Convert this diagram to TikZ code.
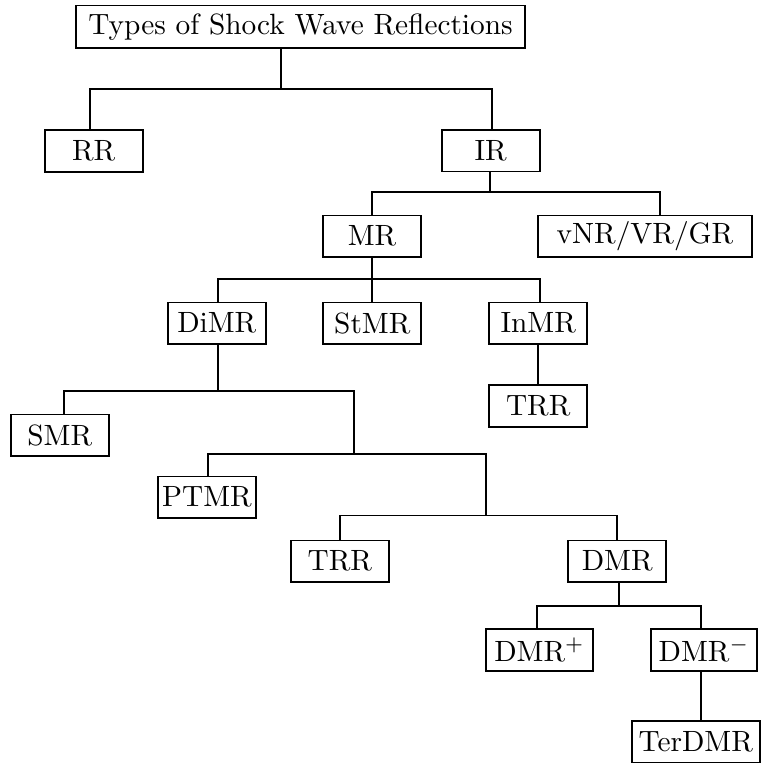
\documentclass[tikz,border=0pt]{standalone}
\begin{document}
\begin{tikzpicture}[x=0.341pt,y=-0.341pt,
  box/.style={draw, line width=0.6pt, inner sep=0pt,
    minimum width=33.42pt, minimum height=14.15pt},
  link/.style={line width=0.6pt}]
\useasboundingbox (0,0) rectangle (762,763);

% boxes
\node[box, minimum width=153.1pt, minimum height=14.5pt] (top) at (300.5,26.7) {Types of Shock Wave Reflections};
\node[box] (RR)   at (93.7,151)   {RR};
\node[box] (IR)   at (490.7,150.7) {IR};
\node[box] (MR)   at (372,236.3)  {MR};
\node[box, minimum width=72.97pt] (vNR) at (645,236.3) {vNR/VR/GR};
\node[box] (DiMR) at (216.8,323.3) {DiMR};
\node[box] (StMR) at (372.3,323.3) {StMR};
\node[box] (InMR) at (538.2,323.3) {InMR};
\node[box] (TRRa) at (538.2,406)  {TRR};
\node[box] (SMR)  at (59.8,435.3) {SMR};
\node[box] (PTMR) at (207,497.3)  {PTMR};
\node[box] (TRRb) at (339.8,561.3) {TRR};
\node[box] (DMR)  at (617.2,561.3) {DMR};
\node[box, minimum width=36.69pt] (DMRp) at (539.5,650) {DMR$^+$};
\node[box, minimum width=36.35pt] (DMRm) at (704,650) {DMR$^-$};
\node[box, minimum width=43.75pt] (TerDMR) at (695.8,742) {TerDMR};

% branch points
\coordinate (b1)  at (280.7,88.7);
\coordinate (b1l) at (89.7,88.7);
\coordinate (b1r) at (491.7,88.7);
\coordinate (b2)  at (490.3,192.3);
\coordinate (b2l) at (372.3,192.3);
\coordinate (b2r) at (659.7,192.3);
\coordinate (b3)  at (372.3,279);
\coordinate (b3l) at (218.3,279);
\coordinate (b3r) at (540.3,279);
\coordinate (b4)  at (218.3,390.7);
\coordinate (b4l) at (64.3,390.7);
\coordinate (b4r) at (353.7,390.7);
\coordinate (j1)  at (353.7,453.7);
\coordinate (b5l) at (208,453.7);
\coordinate (b5r) at (485.7,453.7);
\coordinate (j2)  at (485.7,515.5);
\coordinate (b6l) at (340,515.5);
\coordinate (b6r) at (617,515.5);
\coordinate (b7)  at (619,605.7);
\coordinate (b7l) at (537.3,605.7);
\coordinate (b7r) at (701,605.7);

% connectors
\draw[link] (top.south -| b1) -- (b1);
\draw[link] (RR.north -| b1l) -- (b1l) -- (b1r) -- (IR.north -| b1r);

\draw[link] (IR.south -| b2) -- (b2);
\draw[link] (MR.north -| b2l) -- (b2l) -- (b2r) -- (vNR.north -| b2r);

\draw[link] (MR.south -| b3) -- (b3);
\draw[link] (DiMR.north -| b3l) -- (b3l) -- (b3r) -- (InMR.north -| b3r);
\draw[link] (StMR.north -| b3) -- (b3);

\draw[link] (InMR.south) -- (TRRa.north);

\draw[link] (DiMR.south -| b4) -- (b4);
\draw[link] (SMR.north -| b4l) -- (b4l) -- (b4r) -- (j1);
\draw[link] (PTMR.north -| b5l) -- (b5l) -- (b5r) -- (j2);
\draw[link] (TRRb.north -| b6l) -- (b6l) -- (b6r) -- (DMR.north -| b6r);

\draw[link] (DMR.south -| b7) -- (b7);
\draw[link] (DMRp.north -| b7l) -- (b7l) -- (b7r) -- (DMRm.north -| b7r);
\draw[link] (DMRm.south -| b7r) -- (TerDMR.north -| b7r);
\end{tikzpicture}
\end{document}
